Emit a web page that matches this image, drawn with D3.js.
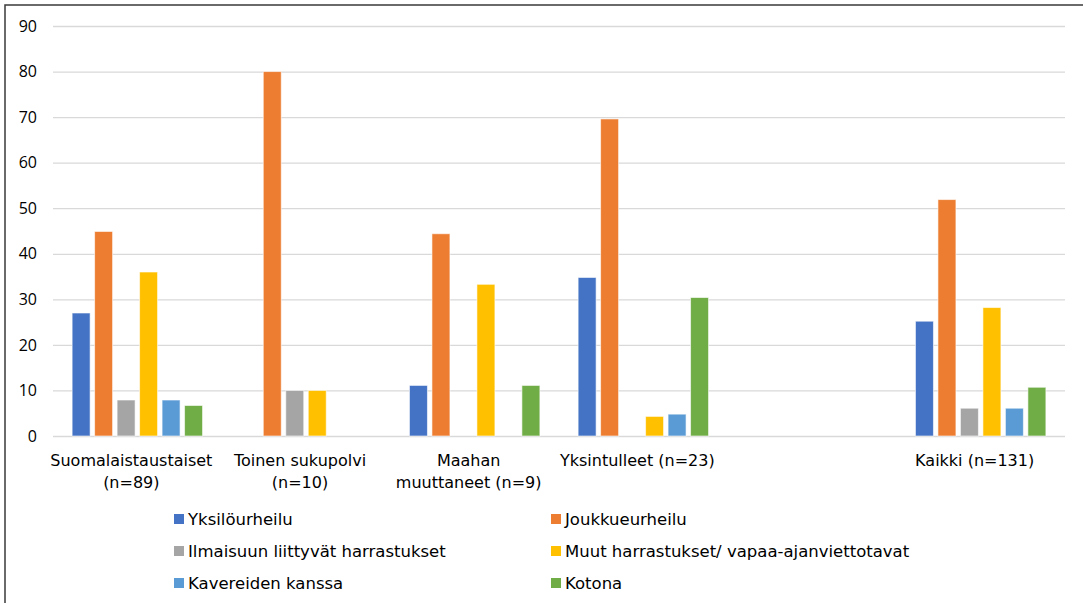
<!DOCTYPE html>
<html>
<head>
<meta charset="utf-8">
<script src="https://cdn.jsdelivr.net/npm/d3@7"></script>
<style>
  body { margin: 0; background: #fff; }
  svg { display: block; }
  .tick text { font-family: "Open Sans", sans-serif; font-size: 16px; fill: #000; }
</style>
</head>
<body>
<div id="chart"></div>
<script>
// data
const categories = [
  "Suomalaistaustaiset\n(n=89)",
  "Toinen sukupolvi\n(n=10)",
  "Maahan\nmuuttaneet (n=9)",
  "Yksintulleet (n=23)",
  "",
  "Kaikki (n=131)"
];
const seriesNames = [
  "Yksilöurheilu",
  "Joukkueurheilu",
  "Ilmaisuun liittyvät harrastukset",
  "Muut harrastukset/ vapaa-ajanviettotavat",
  "Kavereiden kanssa",
  "Kotona"
];
const yksilo    = [27.0, null, 11.1, 34.8, null, 25.2];
const joukkue   = [44.9, 80.0, 44.4, 69.6, null, 51.9];
const ilmaisu   = [7.9, 10.0, null, null, null, 6.1];
const muut      = [36.0, 10.0, 33.3, 4.3, null, 28.2];
const kaverit   = [7.9, null, null, 4.8, null, 6.1];
const kotona    = [6.7, null, 11.1, 30.4, null, 10.7];
const yTicks = [0, 10, 20, 30, 40, 50, 60, 70, 80, 90];

const seriesValues = [yksilo, joukkue, ilmaisu, muut, kaverit, kotona];
const colors = ["#4472C4", "#ED7D31", "#A5A5A5", "#FFC000", "#5B9BD5", "#70AD47"];

let svgWidth = 1083;
let svgHeight = 603;
let margin = { top: 26, right: 18, bottom: 167, left: 53 };
let width = svgWidth - margin.left - margin.right;
let height = svgHeight - margin.top - margin.bottom;

let svg = d3.select("#chart")
  .append("svg")
  .attr("width", svgWidth)
  .attr("height", svgHeight);

// outer frame (right/bottom edges fall outside)
svg.append("rect")
  .attr("x", 5).attr("y", 5)
  .attr("width", svgWidth + 10).attr("height", svgHeight + 10)
  .attr("fill", "none")
  .attr("stroke", "#3a3a3a")
  .attr("stroke-width", 1.5);

let chartGroup = svg.append("g")
  .attr("transform", `translate(${margin.left}, ${margin.top})`);

const x0 = d3.scaleBand()
  .domain(d3.range(categories.length))
  .range([0, width])
  .paddingInner(0.2)
  .paddingOuter(0.1);

const x1 = d3.scaleBand()
  .domain(d3.range(seriesNames.length))
  .range([0, x0.bandwidth()])
  .paddingInner(0.2)
  .paddingOuter(0.1);

const y = d3.scaleLinear()
  .domain([0, 90])
  .range([height, 0]);

// grid + y labels
const leftAxis = d3.axisLeft(y)
  .tickValues(yTicks)
  .tickSize(-width)
  .tickPadding(16);

const yg = chartGroup.append("g").call(leftAxis);
yg.select(".domain").remove();
yg.selectAll(".tick line").attr("stroke", "#d9d9d9").attr("stroke-width", 1.3);

// bars
const groups = chartGroup.selectAll("g.cat")
  .data(categories)
  .enter()
  .append("g")
  .attr("class", "cat")
  .attr("transform", (d, i) => `translate(${x0(i)}, 0)`);

groups.selectAll("rect")
  .data((d, ci) => seriesValues.map((vals, si) => ({ si: si, v: vals[ci] })).filter(e => e.v != null))
  .enter()
  .append("rect")
  .attr("x", d => x1(d.si))
  .attr("y", d => y(d.v))
  .attr("width", x1.bandwidth())
  .attr("height", d => height - y(d.v))
  .attr("fill", d => colors[d.si])
  .attr("stroke", "#fff")
  .attr("stroke-opacity", 0.6)
  .attr("stroke-width", 1);

// category labels
const catLabels = chartGroup.append("g")
  .selectAll("text")
  .data(categories)
  .enter()
  .append("text")
  .attr("x", (d, i) => x0(i) + x0.bandwidth() / 2 - 6)
  .attr("y", height + 30)
  .attr("text-anchor", "middle")
  .attr("font-family", "DejaVu Sans, sans-serif")
  .attr("font-size", "16px")
  .attr("fill", "#000");

catLabels.each(function(d) {
  const lines = d.split("\n");
  d3.select(this).selectAll("tspan")
    .data(lines)
    .enter()
    .append("tspan")
    .attr("x", d3.select(this).attr("x"))
    .attr("dy", (l, i) => i === 0 ? 0 : 22)
    .text(l => l);
});

// legend
const legendCols = [174, 551];
const legendRows = [519, 551, 583];
const legend = svg.append("g")
  .selectAll("g")
  .data(seriesNames)
  .enter()
  .append("g")
  .attr("transform", (d, i) => `translate(${legendCols[i % 2]}, ${legendRows[Math.floor(i / 2)]})`);

legend.append("rect")
  .attr("x", 0).attr("y", -5)
  .attr("width", 10).attr("height", 10)
  .attr("fill", (d, i) => colors[i]);

legend.append("text")
  .attr("x", 14)
  .attr("y", 0)
  .attr("dy", "0.36em")
  .attr("font-family", "DejaVu Sans, sans-serif")
  .attr("font-size", "16.5px")
  .attr("fill", "#000")
  .text(d => d);
</script>
</body>
</html>
